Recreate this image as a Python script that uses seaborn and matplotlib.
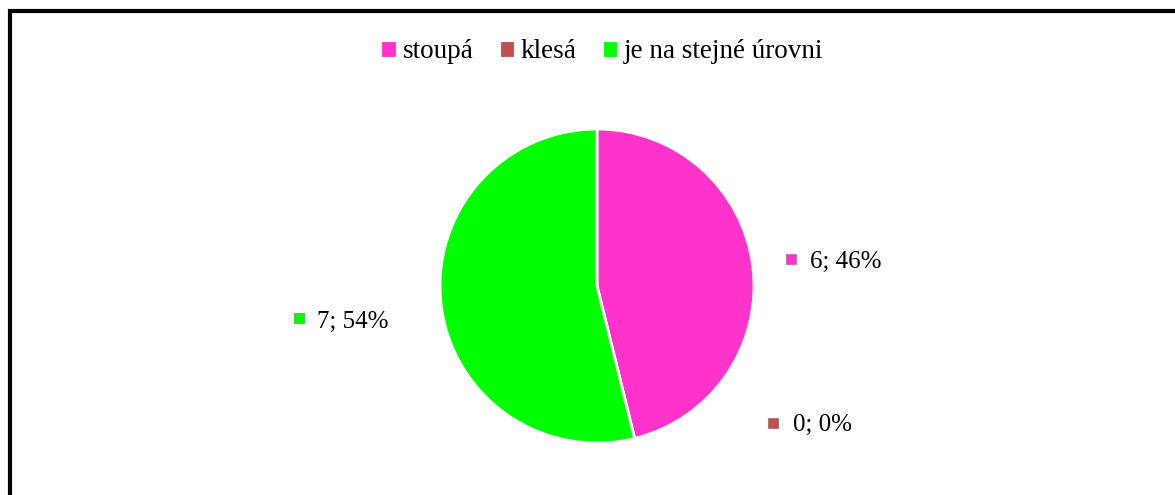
import matplotlib
matplotlib.use('Agg')
import matplotlib.pyplot as plt
import matplotlib.patches as mpatches
import seaborn as sns

# %% dados do grafico
categorias = ['stoupá', 'klesá', 'je na stejné úrovni']
valores = [6, 0, 7]
cores = ['#FF33CC', '#C0504D', '#00FF00']

# posicoes dos rotulos (coordenadas do eixo, raio = 1)
pos_texto = [(1.357, 0.150), (1.248, -0.885), (-1.783, -0.229)]
pos_marca = [(1.236, 0.172), (1.121, -0.870), (-1.898, -0.207)]

# %% estilo
sns.set_theme(style='white')
plt.rcParams['font.family'] = ['Liberation Serif', 'DejaVu Serif']
plt.rcParams['text.color'] = 'black'
paleta = sns.color_palette(cores)

fig = plt.figure(figsize=(11.75, 4.95), dpi=100)
W, H = 1175, 495
cx, cy, r = 597, 286, 157
ax = fig.add_axes([(cx - r) / W, (H - cy - r) / H, 2 * r / W, 2 * r / H])

wedges, _ = ax.pie(valores, colors=paleta, startangle=90, counterclock=False,
                   radius=1, wedgeprops=dict(edgecolor='white', linewidth=2))
ax.set_xlim(-1, 1)
ax.set_ylim(-1, 1)
ax.set_aspect('equal')
ax.axis('off')

total = sum(valores)
for v, c, (tx, ty), (mx, my) in zip(valores, paleta, pos_texto, pos_marca):
    pct = round(v / total * 100)
    ax.text(tx, ty, f'{v}; {pct}%', fontsize=18, ha='left', va='center',
            color='black', clip_on=False)
    ax.plot(mx, my, marker='s', markersize=7, color=c,
            markeredgecolor=sns.desaturate(c, 0.5), markeredgewidth=0.6,
            clip_on=False)

# %% legenda
handles = [mpatches.Patch(facecolor=c, edgecolor=c, linewidth=0.6) for c in paleta]
fig.legend(handles, categorias, loc='center', bbox_to_anchor=(603 / W, 1 - 52 / H),
           ncol=3, frameon=False, fontsize=19.5, handlelength=0.45, handleheight=0.45,
           handletextpad=0.3, columnspacing=1.0, labelcolor='black')

# %% borda
borda = mpatches.Rectangle((10 / W, -0.2), 1.5, 1 - 10.5 / H + 0.2,
                           transform=fig.transFigure, fill=False,
                           edgecolor='black', linewidth=3, clip_on=False)
fig.patches.append(borda)

fig.savefig('out.png', dpi=100, facecolor='white')
